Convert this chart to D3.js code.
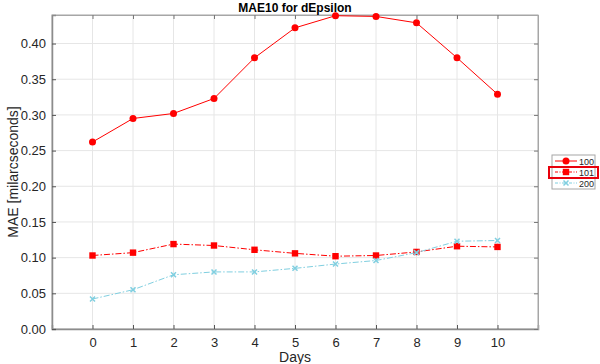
<!DOCTYPE html>
<html>
<head>
<meta charset="utf-8">
<script src="https://cdn.jsdelivr.net/npm/d3@7"></script>
<style>
  body { margin: 0; background: #fff; }
  svg { font-family: "Liberation Sans", Arial, sans-serif; }
</style>
</head>
<body>
<svg id="chart" width="600" height="364"></svg>
<script>
// data
var days = [0, 1, 2, 3, 4, 5, 6, 7, 8, 9, 10];
var s100 = [0.262, 0.295, 0.302, 0.323, 0.380, 0.422, 0.439, 0.438, 0.429, 0.380, 0.329];
var s101 = [0.103, 0.107, 0.119, 0.117, 0.111, 0.106, 0.102, 0.103, 0.108, 0.116, 0.115];
var s200 = [0.042, 0.055, 0.076, 0.080, 0.080, 0.085, 0.091, 0.096, 0.107, 0.123, 0.124];
var seriesNames = ["100", "101", "200"];
var yTicks = [0, 0.05, 0.10, 0.15, 0.20, 0.25, 0.30, 0.35, 0.40];

var svg = d3.select("#chart");
var margin = {left: 52, right: 62, top: 15, bottom: 35},
    width = 600 - margin.left - margin.right,
    height = 364 - margin.top - margin.bottom;

var x = d3.scaleLinear().domain([-1, 11]).range([0, width]);
var y = d3.scaleLinear().domain([0, 0.44]).range([height, 0]);

var g = svg.append("g")
    .attr("transform", "translate(" + margin.left + "," + margin.top + ")");

// grid
g.selectAll(".vgrid").data(days).enter().append("line")
    .attr("x1", function(d) { return x(d); })
    .attr("x2", function(d) { return x(d); })
    .attr("y1", 0).attr("y2", height)
    .attr("stroke", "#e6e6e6").attr("stroke-width", 1);
g.selectAll(".hgrid").data(yTicks).enter().append("line")
    .attr("x1", 0).attr("x2", width)
    .attr("y1", function(d) { return y(d); })
    .attr("y2", function(d) { return y(d); })
    .attr("stroke", "#e6e6e6").attr("stroke-width", 1);

// box
g.append("rect").attr("width", width).attr("height", height)
    .attr("fill", "none").attr("stroke", "#a6a6a6").attr("stroke-width", 1);

// axes
var xAxis = g.append("g").attr("transform", "translate(0," + height + ")")
    .call(d3.axisBottom(x).tickValues(days).tickSize(-4).tickPadding(9));
var xTop = g.append("g")
    .call(d3.axisTop(x).tickValues(days).tickSize(-4).tickFormat(""));
var yAxis = g.append("g")
    .call(d3.axisLeft(y).tickValues(yTicks).tickSize(-4).tickPadding(6).tickFormat(d3.format(".2f")));
var yRight = g.append("g").attr("transform", "translate(" + width + ",0)")
    .call(d3.axisRight(y).tickValues(yTicks).tickSize(-4).tickFormat(""));

[xAxis, yAxis].forEach(function(a) {
    a.select(".domain").attr("stroke", "#8c8c8c").attr("stroke-width", 1.5);
    a.selectAll(".tick line").attr("stroke", "#555");
    a.selectAll("text").attr("fill", "#262626").style("font-size", "13px")
        .style("font-family", "'Liberation Sans', Arial, sans-serif");
});
[xTop, yRight].forEach(function(a) {
    a.select(".domain").attr("stroke", "#a6a6a6");
    a.selectAll(".tick line").attr("stroke", "#777");
});

// lines
var series = [
    {name: seriesNames[0], values: s100, color: "#ff0000", dash: null, marker: "circle"},
    {name: seriesNames[1], values: s101, color: "#ff0000", dash: "6,2,1.5,2", marker: "square"},
    {name: seriesNames[2], values: s200, color: "#80cfe0", dash: "6,2,1.5,2", marker: "x"}
];

var line = d3.line()
    .x(function(d, i) { return x(days[i]); })
    .y(function(d) { return y(d); });

function drawMarker(sel, type, color, cx, cy) {
    if (type === "circle") {
        sel.append("circle").attr("cx", cx).attr("cy", cy).attr("r", 3.5).attr("fill", color);
    } else if (type === "square") {
        sel.append("rect").attr("x", cx - 3.2).attr("y", cy - 3.2)
            .attr("width", 6.4).attr("height", 6.4).attr("fill", color);
    } else {
        sel.append("path")
            .attr("d", "M" + (cx - 2.5) + "," + (cy - 2.5) + "L" + (cx + 2.5) + "," + (cy + 2.5) +
                "M" + (cx - 2.5) + "," + (cy + 2.5) + "L" + (cx + 2.5) + "," + (cy - 2.5))
            .attr("stroke", color).attr("stroke-width", 1.5);
    }
}

series.forEach(function(s) {
    g.append("path").datum(s.values)
        .attr("d", line)
        .attr("fill", "none")
        .attr("stroke", s.color)
        .attr("stroke-width", 1)
        .attr("stroke-dasharray", s.dash);
    var mg = g.append("g");
    s.values.forEach(function(v, i) {
        drawMarker(mg, s.marker, s.color, x(days[i]), y(v));
    });
});

// title and labels
svg.append("text").attr("x", margin.left + width / 2).attr("y", 12)
    .attr("text-anchor", "middle").style("font-size", "12px").style("font-weight", "bold")
    .attr("fill", "#000").text("MAE10 for dEpsilon");

svg.append("text").attr("x", margin.left + width / 2).attr("y", 362)
    .attr("text-anchor", "middle").style("font-size", "14px").attr("fill", "#262626")
    .text("Days");

svg.append("text")
    .attr("transform", "translate(18," + (margin.top + height / 2) + ") rotate(-90)")
    .attr("text-anchor", "middle").style("font-size", "14px").attr("fill", "#262626")
    .text("MAE [milarcseconds]");

// legend
var lg = svg.append("g").attr("transform", "translate(552,155)");
lg.append("rect").attr("width", 43).attr("height", 34)
    .attr("fill", "#fff").attr("stroke", "#a6a6a6").attr("stroke-width", 1);
series.forEach(function(s, i) {
    var cy = 6 + i * 11;
    lg.append("line").attr("x1", 3).attr("x2", 25).attr("y1", cy).attr("y2", cy)
        .attr("stroke", s.color).attr("stroke-width", 1).attr("stroke-dasharray", s.dash ? "3,1.5,1,1.5" : null);
    drawMarker(lg, s.marker, s.color, 14, cy);
    lg.append("text").attr("x", 27).attr("y", cy + 3.5)
        .style("font-size", "9px").attr("fill", "#262626").text(s.name);
});
// highlighted entry
lg.append("rect").attr("x", -3).attr("y", 12).attr("width", 49).attr("height", 11)
    .attr("fill", "none").attr("stroke", "#e8000b").attr("stroke-width", 2);
</script>
</body>
</html>
